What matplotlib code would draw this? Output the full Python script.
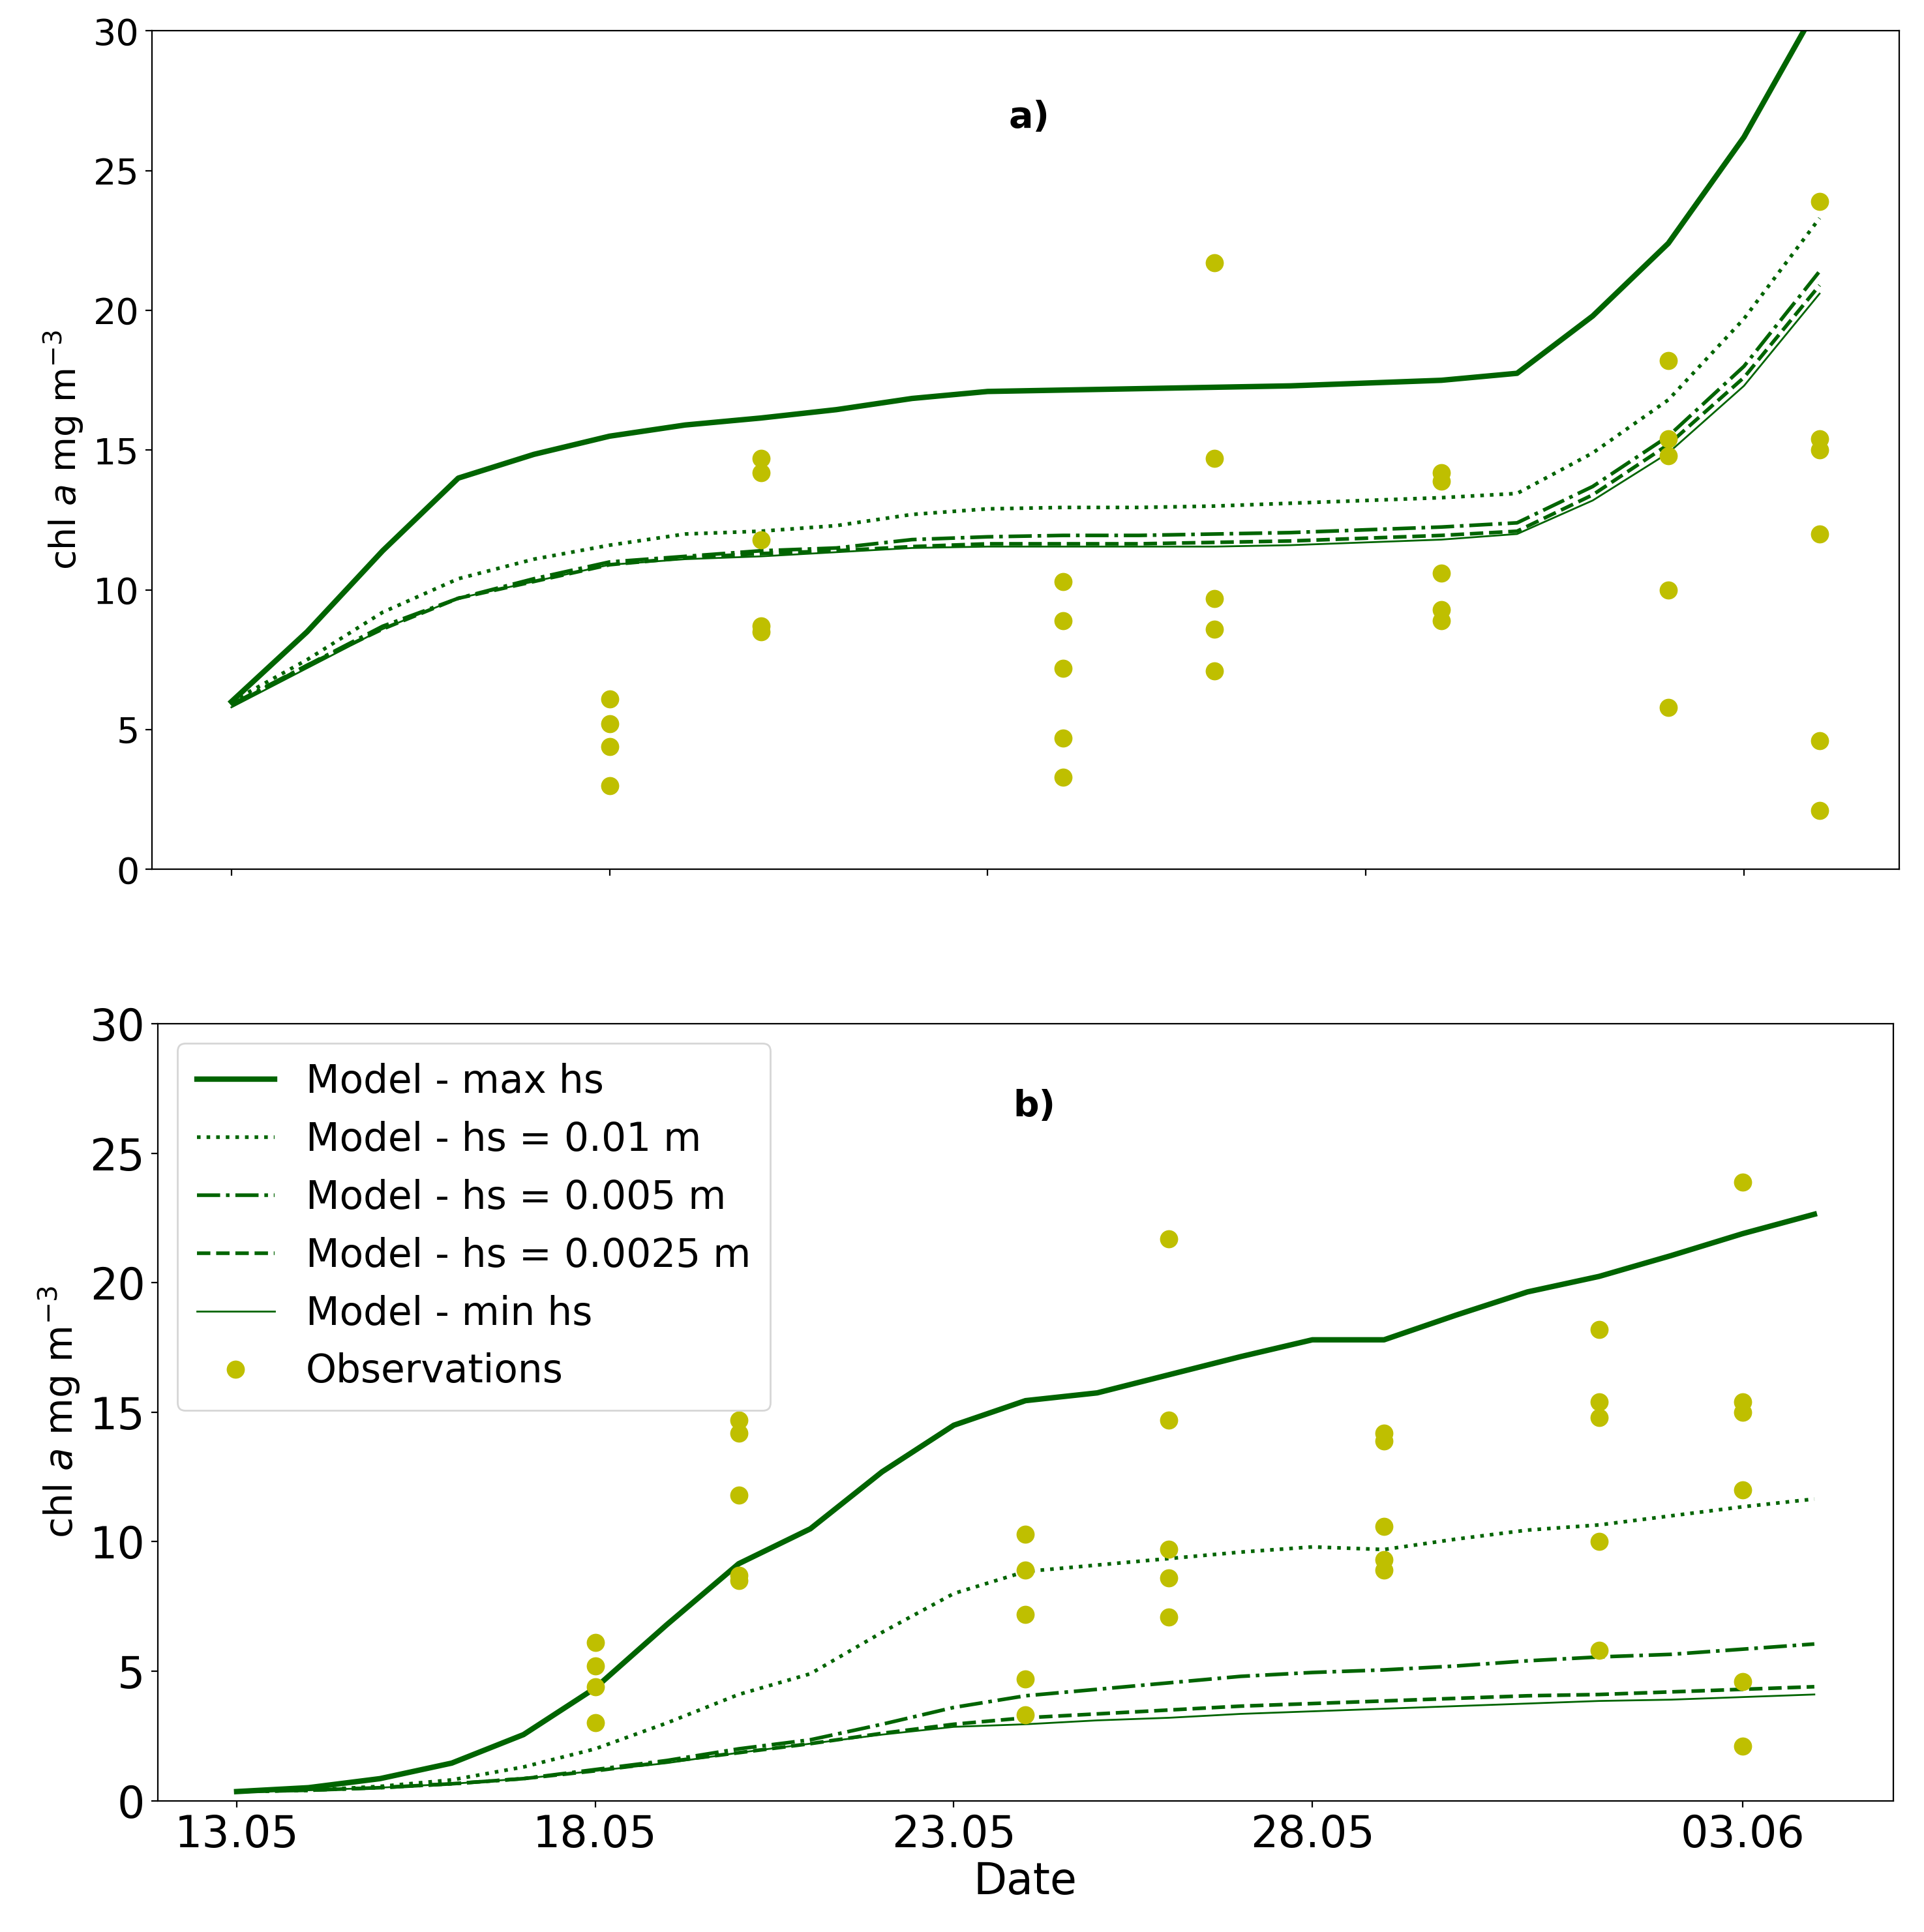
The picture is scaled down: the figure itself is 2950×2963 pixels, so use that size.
import numpy as np
import matplotlib.pyplot as plt
import matplotlib.dates as mdates
import datetime as dt

# Panel a) model runs, days 0..21
a_max = [6.0, 8.5, 11.4, 14.0, 14.85, 15.5, 15.9, 16.15, 16.45, 16.85, 17.1, 17.15, 17.2, 17.25, 17.3, 17.4, 17.5, 17.75, 19.8, 22.4, 26.2, 31.0]
a_01 = [6.0, 7.5, 9.2, 10.4, 11.1, 11.6, 12.0, 12.1, 12.3, 12.7, 12.9, 12.95, 12.95, 13.0, 13.1, 13.2, 13.3, 13.45, 14.9, 16.8, 19.7, 23.3]
a_005 = [5.9, 7.3, 8.7, 9.7, 10.4, 11.0, 11.2, 11.4, 11.5, 11.8, 11.9, 11.95, 11.95, 12.0, 12.05, 12.15, 12.25, 12.4, 13.7, 15.5, 18.0, 21.4]
a_0025 = [5.85, 7.3, 8.6, 9.7, 10.3, 10.9, 11.15, 11.3, 11.4, 11.55, 11.65, 11.65, 11.65, 11.7, 11.75, 11.85, 11.95, 12.1, 13.4, 15.2, 17.6, 20.9]
a_min = [5.8, 7.2, 8.6, 9.7, 10.3, 10.9, 11.1, 11.2, 11.35, 11.5, 11.55, 11.55, 11.55, 11.55, 11.6, 11.7, 11.8, 12.0, 13.2, 14.9, 17.3, 20.6]

# Panel b) model runs, days 0..22
b_max = [0.35, 0.5, 0.85, 1.45, 2.55, 4.35, 6.8, 9.15, 10.5, 12.7, 14.5, 15.45, 15.75, 16.45, 17.15, 17.8, 17.8, 18.75, 19.65, 20.25, 21.05, 21.9, 22.65]
b_01 = [0.35, 0.4, 0.55, 0.8, 1.3, 2.0, 3.0, 4.1, 4.9, 6.5, 8.0, 8.85, 9.1, 9.35, 9.6, 9.8, 9.7, 10.1, 10.45, 10.65, 11.0, 11.35, 11.65]
b_005 = [0.35, 0.4, 0.5, 0.65, 0.85, 1.2, 1.55, 2.0, 2.35, 2.95, 3.6, 4.05, 4.3, 4.55, 4.8, 4.95, 5.05, 5.2, 5.4, 5.55, 5.65, 5.85, 6.05]
b_0025 = [0.35, 0.4, 0.5, 0.65, 0.85, 1.15, 1.5, 1.85, 2.2, 2.6, 2.95, 3.2, 3.35, 3.5, 3.65, 3.75, 3.85, 3.95, 4.05, 4.1, 4.2, 4.3, 4.4]
b_min = [0.35, 0.4, 0.5, 0.65, 0.85, 1.15, 1.45, 1.85, 2.2, 2.55, 2.85, 2.95, 3.1, 3.2, 3.35, 3.45, 3.55, 3.65, 3.75, 3.85, 3.9, 4.0, 4.1]

# Observations (day offset from 13.05, value)
obs_days = [5]*4 + [7]*5 + [11]*5 + [13]*5 + [16]*5 + [19]*5 + [21]*6
obs_vals = [6.1, 5.2, 4.4, 3.0,
            14.7, 14.2, 11.8, 8.7, 8.5,
            10.3, 8.9, 7.2, 4.7, 3.3,
            21.7, 14.7, 9.7, 8.6, 7.1,
            14.2, 13.9, 10.6, 9.3, 8.9,
            18.2, 15.4, 14.8, 10.0, 5.8,
            23.9, 15.4, 15.0, 12.0, 4.6, 2.1]

green = '#006400'
olive = '#bfbf00'
plt.rcParams['font.size'] = 20

fig = plt.figure(figsize=(14.75, 14.815), dpi=200)
ax1 = fig.add_axes([0.079, 0.55, 0.908, 0.434])
ax2 = fig.add_axes([0.082, 0.068, 0.902, 0.402])

def draw(ax, x, series):
    mx, m01, m005, m0025, mmin = series
    ax.plot(x, mx, color=green, lw=3, label='Model - max hs')
    ax.plot(x, m01, color=green, lw=2, ls=':', label='Model - hs = 0.01 m')
    ax.plot(x, m005, color=green, lw=2, ls='-.', label='Model - hs = 0.005 m')
    ax.plot(x, m0025, color=green, lw=2, ls='--', label='Model - hs = 0.0025 m')
    ax.plot(x, mmin, color=green, lw=1, label='Model - min hs')

# top panel uses day index
draw(ax1, np.arange(len(a_max)), [a_max, a_01, a_005, a_0025, a_min])
ax1.plot(obs_days, obs_vals, 'o', color=olive, ms=9, label='Observations')
ax1.set_ylim(0, 30)
ax1.set_xticks([0, 5, 10, 15, 20])
ax1.set_xticklabels([])
ax1.set_ylabel('chl $a$ mg m$^{-3}$')
ax1.text(0.502, 0.897, 'a)', transform=ax1.transAxes, fontweight='bold', ha='center', va='center')

# bottom panel uses dates
start = dt.date(2023, 5, 13)
dates_b = [start + dt.timedelta(days=i) for i in range(len(b_max))]
obs_dates = [start + dt.timedelta(days=d) for d in obs_days]
draw(ax2, dates_b, [b_max, b_01, b_005, b_0025, b_min])
ax2.plot(obs_dates, obs_vals, 'o', color=olive, ms=9, label='Observations')
ax2.set_ylim(0, 30)
ax2.set_xticks([start + dt.timedelta(days=d) for d in (0, 5, 10, 15, 21)])
ax2.xaxis.set_major_formatter(mdates.DateFormatter('%d.%m'))
ax2.tick_params(labelsize=24)
ax2.set_xlabel('Date', fontsize=24, labelpad=2)
ax2.set_ylabel('chl $a$ mg m$^{-3}$', fontsize=21)
ax2.text(0.505, 0.894, 'b)', transform=ax2.transAxes, fontweight='bold', ha='center', va='center')
ax2.legend(loc='upper left', fontsize=21.5, borderpad=0.5)

fig.savefig('out.png')
